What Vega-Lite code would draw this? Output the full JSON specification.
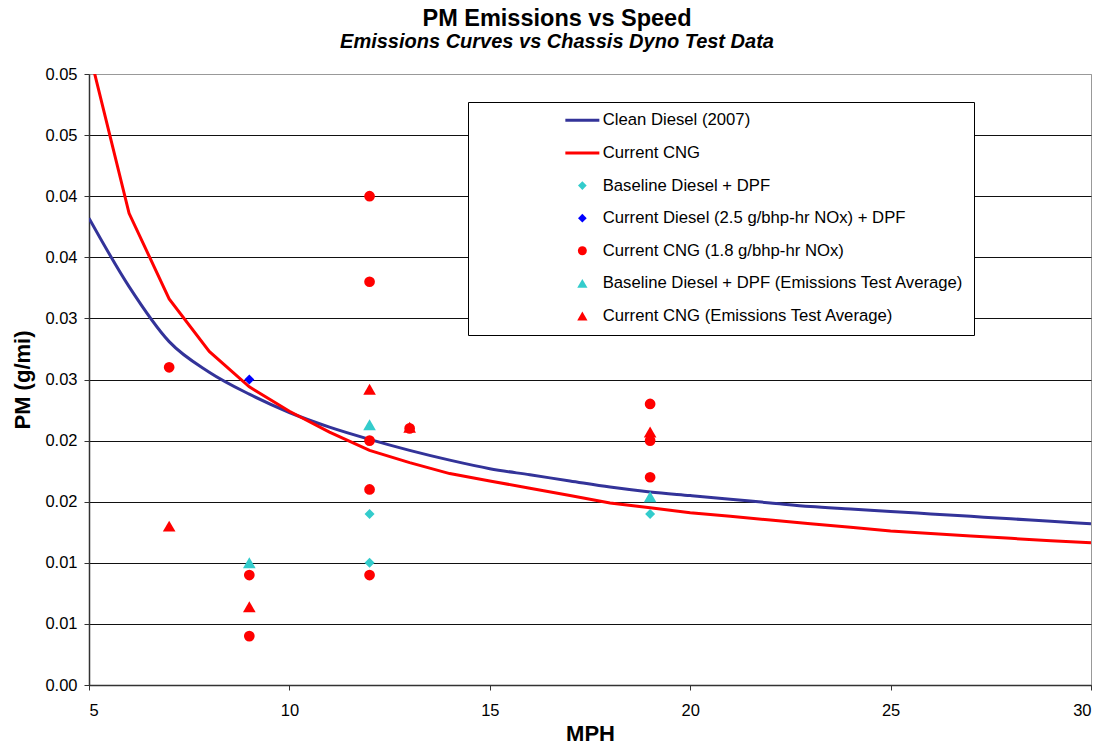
{
  "$schema": "https://vega.github.io/schema/vega-lite/v6.json",
  "width": 1002,
  "height": 611,
  "autosize": {"type": "none"},
  "padding": {"left": 89, "top": 74, "right": 15, "bottom": 63},
  "background": "white",
  "config": {
    "font": "Liberation Sans",
    "view": {"stroke": "#999", "strokeWidth": 1},
    "axis": {
      "labelFont": "Liberation Sans",
      "labelFontSize": 16.5,
      "labelColor": "#000",
      "titleFont": "Liberation Sans",
      "titleFontSize": 22,
      "titleFontWeight": "bold",
      "titleColor": "#000",
      "domainColor": "#333",
      "tickColor": "#333",
      "tickSize": 5
    }
  },
  "title": {
    "text": "PM Emissions vs Speed",
    "subtitle": "Emissions Curves vs Chassis Dyno Test Data",
    "font": "Liberation Sans",
    "subtitleFont": "Liberation Sans",
    "fontSize": 23.5,
    "fontWeight": "bold",
    "color": "#000",
    "subtitleFontSize": 20,
    "subtitleFontWeight": "bold",
    "subtitleFontStyle": "italic",
    "subtitleColor": "#000",
    "subtitlePadding": 2,
    "anchor": "middle",
    "frame": "group",
    "dx": -33,
    "offset": 14
  },
  "datasets": {
    "curves": [
      {"mph": 5, "pm": 0.0382, "series": "Clean Diesel (2007)"},
      {"mph": 6, "pm": 0.0326, "series": "Clean Diesel (2007)"},
      {"mph": 7, "pm": 0.0281, "series": "Clean Diesel (2007)"},
      {"mph": 8, "pm": 0.0256, "series": "Clean Diesel (2007)"},
      {"mph": 9, "pm": 0.0238, "series": "Clean Diesel (2007)"},
      {"mph": 10, "pm": 0.0223, "series": "Clean Diesel (2007)"},
      {"mph": 11, "pm": 0.0211, "series": "Clean Diesel (2007)"},
      {"mph": 12, "pm": 0.0201, "series": "Clean Diesel (2007)"},
      {"mph": 13, "pm": 0.0192, "series": "Clean Diesel (2007)"},
      {"mph": 14, "pm": 0.0184, "series": "Clean Diesel (2007)"},
      {"mph": 15, "pm": 0.0177, "series": "Clean Diesel (2007)"},
      {"mph": 16, "pm": 0.0172, "series": "Clean Diesel (2007)"},
      {"mph": 17, "pm": 0.0167, "series": "Clean Diesel (2007)"},
      {"mph": 18, "pm": 0.0162, "series": "Clean Diesel (2007)"},
      {"mph": 19, "pm": 0.0158, "series": "Clean Diesel (2007)"},
      {"mph": 20, "pm": 0.0155, "series": "Clean Diesel (2007)"},
      {"mph": 21, "pm": 0.0152, "series": "Clean Diesel (2007)"},
      {"mph": 22, "pm": 0.0149, "series": "Clean Diesel (2007)"},
      {"mph": 23, "pm": 0.0146, "series": "Clean Diesel (2007)"},
      {"mph": 24, "pm": 0.0144, "series": "Clean Diesel (2007)"},
      {"mph": 25, "pm": 0.0142, "series": "Clean Diesel (2007)"},
      {"mph": 26, "pm": 0.0140, "series": "Clean Diesel (2007)"},
      {"mph": 27, "pm": 0.0138, "series": "Clean Diesel (2007)"},
      {"mph": 28, "pm": 0.0136, "series": "Clean Diesel (2007)"},
      {"mph": 29, "pm": 0.0134, "series": "Clean Diesel (2007)"},
      {"mph": 30, "pm": 0.0132, "series": "Clean Diesel (2007)"},
      {"mph": 5, "pm": 0.0519, "series": "Current CNG"},
      {"mph": 6, "pm": 0.0386, "series": "Current CNG"},
      {"mph": 7, "pm": 0.0316, "series": "Current CNG"},
      {"mph": 8, "pm": 0.0273, "series": "Current CNG"},
      {"mph": 9, "pm": 0.0244, "series": "Current CNG"},
      {"mph": 10, "pm": 0.0224, "series": "Current CNG"},
      {"mph": 11, "pm": 0.0207, "series": "Current CNG"},
      {"mph": 12, "pm": 0.0192, "series": "Current CNG"},
      {"mph": 13, "pm": 0.0182, "series": "Current CNG"},
      {"mph": 14, "pm": 0.0173, "series": "Current CNG"},
      {"mph": 15, "pm": 0.0167, "series": "Current CNG"},
      {"mph": 16, "pm": 0.0161, "series": "Current CNG"},
      {"mph": 17, "pm": 0.0155, "series": "Current CNG"},
      {"mph": 18, "pm": 0.0149, "series": "Current CNG"},
      {"mph": 19, "pm": 0.0145, "series": "Current CNG"},
      {"mph": 20, "pm": 0.0141, "series": "Current CNG"},
      {"mph": 21, "pm": 0.0138, "series": "Current CNG"},
      {"mph": 22, "pm": 0.0135, "series": "Current CNG"},
      {"mph": 23, "pm": 0.0132, "series": "Current CNG"},
      {"mph": 24, "pm": 0.0129, "series": "Current CNG"},
      {"mph": 25, "pm": 0.0126, "series": "Current CNG"},
      {"mph": 26, "pm": 0.0124, "series": "Current CNG"},
      {"mph": 27, "pm": 0.0122, "series": "Current CNG"},
      {"mph": 28, "pm": 0.0120, "series": "Current CNG"},
      {"mph": 29, "pm": 0.0118, "series": "Current CNG"},
      {"mph": 30, "pm": 0.01165, "series": "Current CNG"}
    ],
    "tests": [
      {"mph": 12, "pm": 0.014, "series": "Baseline Diesel + DPF"},
      {"mph": 12, "pm": 0.010, "series": "Baseline Diesel + DPF"},
      {"mph": 19, "pm": 0.014, "series": "Baseline Diesel + DPF"},
      {"mph": 9, "pm": 0.025, "series": "Current Diesel (2.5 g/bhp-hr NOx) + DPF"},
      {"mph": 7, "pm": 0.026, "series": "Current CNG (1.8 g/bhp-hr NOx)"},
      {"mph": 9, "pm": 0.009, "series": "Current CNG (1.8 g/bhp-hr NOx)"},
      {"mph": 9, "pm": 0.004, "series": "Current CNG (1.8 g/bhp-hr NOx)"},
      {"mph": 12, "pm": 0.040, "series": "Current CNG (1.8 g/bhp-hr NOx)"},
      {"mph": 12, "pm": 0.033, "series": "Current CNG (1.8 g/bhp-hr NOx)"},
      {"mph": 12, "pm": 0.020, "series": "Current CNG (1.8 g/bhp-hr NOx)"},
      {"mph": 12, "pm": 0.016, "series": "Current CNG (1.8 g/bhp-hr NOx)"},
      {"mph": 12, "pm": 0.009, "series": "Current CNG (1.8 g/bhp-hr NOx)"},
      {"mph": 13, "pm": 0.021, "series": "Current CNG (1.8 g/bhp-hr NOx)"},
      {"mph": 19, "pm": 0.023, "series": "Current CNG (1.8 g/bhp-hr NOx)"},
      {"mph": 19, "pm": 0.020, "series": "Current CNG (1.8 g/bhp-hr NOx)"},
      {"mph": 19, "pm": 0.017, "series": "Current CNG (1.8 g/bhp-hr NOx)"},
      {"mph": 9, "pm": 0.010, "series": "Baseline Diesel + DPF (Emissions Test Average)"},
      {"mph": 12, "pm": 0.0213, "series": "Baseline Diesel + DPF (Emissions Test Average)"},
      {"mph": 19, "pm": 0.0154, "series": "Baseline Diesel + DPF (Emissions Test Average)"},
      {"mph": 7, "pm": 0.013, "series": "Current CNG (Emissions Test Average)"},
      {"mph": 9, "pm": 0.0064, "series": "Current CNG (Emissions Test Average)"},
      {"mph": 12, "pm": 0.0242, "series": "Current CNG (Emissions Test Average)"},
      {"mph": 13, "pm": 0.0211, "series": "Current CNG (Emissions Test Average)"},
      {"mph": 19, "pm": 0.0207, "series": "Current CNG (Emissions Test Average)"}
    ]
  },
  "encoding": {
    "x": {
      "field": "mph",
      "type": "quantitative",
      "scale": {"domain": [5, 30], "nice": false, "zero": false},
      "axis": {
        "title": "MPH",
        "values": [5, 10, 15, 20, 25, 30],
        "grid": false,
        "labelPadding": 12,
        "titlePadding": 5,
        "domainWidth": 1.5
      }
    },
    "y": {
      "field": "pm",
      "type": "quantitative",
      "scale": {"domain": [0, 0.05], "nice": false, "zero": true},
      "axis": {
        "title": "PM (g/mi)",
        "values": [0, 0.005, 0.01, 0.015, 0.02, 0.025, 0.03, 0.035, 0.04, 0.045, 0.05],
        "labelExpr": "format(datum.value + 0.0001, '.2f')",
        "grid": true,
        "gridColor": {"condition": {"test": "datum.value >= 0.0499", "value": "#999"}, "value": "#111"},
        "labelPadding": 7,
        "titlePadding": 10,
        "domainWidth": 1.5
      }
    }
  },
  "layer": [
    {
      "data": {"name": "curves"},
      "transform": [{"filter": "datum.series === 'Clean Diesel (2007)'"}],
      "mark": {"type": "line", "strokeWidth": 3, "clip": true, "interpolate": "monotone"},
      "encoding": {
        "color": {
          "field": "series",
          "type": "nominal",
          "scale": {
            "domain": ["Clean Diesel (2007)", "Current CNG", "Baseline Diesel + DPF", "Current Diesel (2.5 g/bhp-hr NOx) + DPF", "Current CNG (1.8 g/bhp-hr NOx)", "Baseline Diesel + DPF (Emissions Test Average)", "Current CNG (Emissions Test Average)"],
            "range": ["#333399", "#FF0000", "#33CCCC", "#0000FF", "#FF0000", "#33CCCC", "#FF0000"]
          },
          "legend": {
            "title": null,
            "orient": "none",
            "legendX": 379,
            "legendY": 28,
            "padding": 10,
            "symbolSize": 100,
            "symbolOffset": 96,
            "labelOffset": 12,
            "rowPadding": 14.6,
            "labelFont": "Liberation Sans",
            "labelFontSize": 16.7,
            "labelColor": "#000",
            "labelLimit": 600,
            "strokeColor": "#000",
            "fillColor": "#fff",
            "encode": {
              "symbols": {
                "update": {
                  "shape": {"signal": "(datum.value === 'Clean Diesel (2007)' || datum.value === 'Current CNG') ? 'stroke' : (datum.value === 'Current CNG (1.8 g/bhp-hr NOx)' ? 'circle' : ((datum.value === 'Baseline Diesel + DPF' || datum.value === 'Current Diesel (2.5 g/bhp-hr NOx) + DPF') ? 'diamond' : 'triangle-up'))"},
                  "size": {"signal": "(datum.value === 'Clean Diesel (2007)' || datum.value === 'Current CNG') ? 1156 : (datum.value === 'Current CNG (1.8 g/bhp-hr NOx)' ? 80 : ((datum.value === 'Baseline Diesel + DPF' || datum.value === 'Current Diesel (2.5 g/bhp-hr NOx) + DPF') ? 75 : 105))"},
                  "fill": {"signal": "(datum.value === 'Clean Diesel (2007)' || datum.value === 'Current CNG') ? 'transparent' : ((datum.value === 'Baseline Diesel + DPF' || datum.value === 'Baseline Diesel + DPF (Emissions Test Average)') ? '#33CCCC' : (datum.value === 'Current Diesel (2.5 g/bhp-hr NOx) + DPF' ? '#0000FF' : '#FF0000'))"},
                  "stroke": {"signal": "datum.value === 'Clean Diesel (2007)' ? '#333399' : (datum.value === 'Current CNG' ? '#FF0000' : 'transparent')"},
                  "strokeWidth": {"signal": "(datum.value === 'Clean Diesel (2007)' || datum.value === 'Current CNG') ? 3 : 0"},
                  "opacity": {"value": 1}
                }
              }
            }
          }
        }
      }
    },
    {
      "data": {"name": "curves"},
      "transform": [{"filter": "datum.series === 'Current CNG'"}],
      "mark": {"type": "line", "strokeWidth": 3, "clip": true},
      "encoding": {"color": {"field": "series", "type": "nominal", "legend": null}}
    },
    {
      "data": {"name": "tests"},
      "transform": [{"filter": "datum.series === 'Baseline Diesel + DPF' || datum.series === 'Current Diesel (2.5 g/bhp-hr NOx) + DPF'"}],
      "mark": {"type": "point", "shape": "diamond", "size": 100, "filled": true, "opacity": 1, "strokeWidth": 0},
      "encoding": {"color": {"field": "series", "type": "nominal", "legend": null}}
    },
    {
      "data": {"name": "tests"},
      "transform": [{"filter": "datum.series === 'Current CNG (1.8 g/bhp-hr NOx)'"}],
      "mark": {"type": "point", "shape": "circle", "size": 115, "filled": true, "opacity": 1, "strokeWidth": 0},
      "encoding": {"color": {"field": "series", "type": "nominal", "legend": null}}
    },
    {
      "data": {"name": "tests"},
      "transform": [{"filter": "datum.series === 'Baseline Diesel + DPF (Emissions Test Average)' || datum.series === 'Current CNG (Emissions Test Average)'"}],
      "mark": {"type": "point", "shape": "triangle-up", "size": 160, "filled": true, "opacity": 1, "strokeWidth": 0},
      "encoding": {"color": {"field": "series", "type": "nominal", "legend": null}}
    }
  ]
}
